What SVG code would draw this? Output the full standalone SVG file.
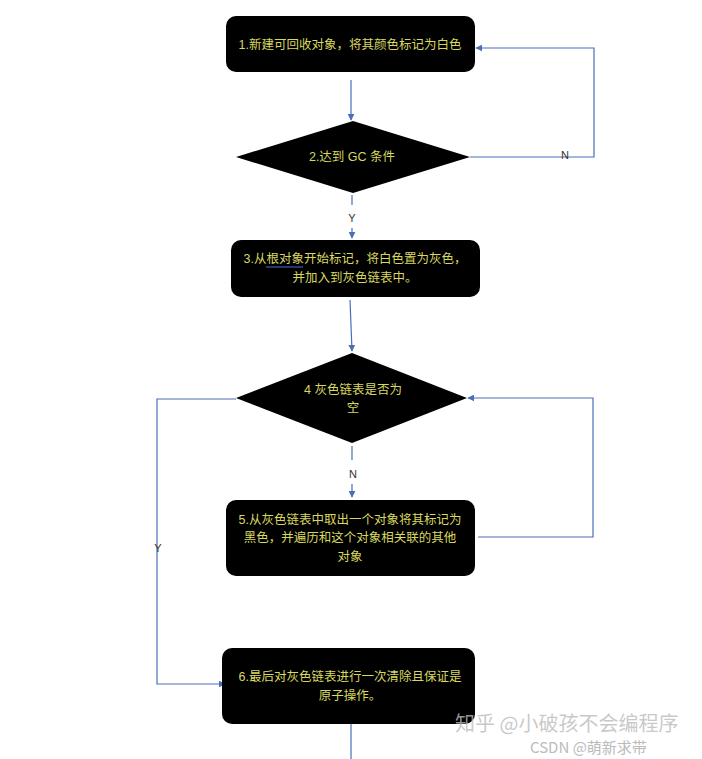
<svg xmlns="http://www.w3.org/2000/svg" width="702" height="759" viewBox="0 0 702 759">
<defs>
<style>
.box{fill:#000;}
.t{font-family:"Liberation Sans","Noto Sans CJK SC",sans-serif;font-size:12.5px;fill:#d8d860;text-anchor:middle;}
.c{fill:none;stroke:#4a6fb5;stroke-width:1.2;}
.lbl{font-family:"Liberation Sans","Noto Sans CJK SC",sans-serif;font-size:11px;fill:#333;text-anchor:middle;}
.wm{font-family:"Noto Sans CJK SC",sans-serif;fill:#bbb;}
</style>
<marker id="ah" viewBox="0 0 10 10" refX="9" refY="5" markerWidth="7" markerHeight="7" orient="auto" markerUnits="userSpaceOnUse">
<path d="M0,0 L10,5 L0,10 z" fill="#4a6fb5"/>
</marker>
</defs>
<rect width="702" height="759" fill="#fff"/>
<g id="connectors">
<line class="c" x1="351" y1="80" x2="351" y2="120" marker-end="url(#ah)"/>
<polyline class="c" points="470,157 594,157 594,48 476,48" marker-end="url(#ah)"/>
<text class="lbl" x="565" y="159">N</text>
<line class="c" x1="352" y1="195" x2="352" y2="205"/>
<text class="lbl" x="352" y="222">Y</text>
<line class="c" x1="352" y1="228" x2="352" y2="238" marker-end="url(#ah)"/>
<line class="c" x1="350" y1="300" x2="352" y2="351" marker-end="url(#ah)"/>
<line class="c" x1="352" y1="446" x2="352" y2="460"/>
<text class="lbl" x="353" y="478">N</text>
<line class="c" x1="352" y1="484" x2="352" y2="497" marker-end="url(#ah)"/>
<polyline class="c" points="478,537 593,537 593,398 468,398" marker-end="url(#ah)"/>
<polyline class="c" points="236,399 157,399 157,684 225,684" marker-end="url(#ah)"/>
<text class="lbl" x="158" y="552">Y</text>
<line class="c" x1="351" y1="723" x2="351" y2="759"/>
</g>
<g id="n1">
<rect class="box" x="226" y="16" width="249" height="56" rx="10"/>
<text class="t" x="350" y="49">1.新建可回收对象，将其颜色标记为白色</text>
</g>
<g id="n2">
<polygon class="box" points="236,157 353,121 470,157 353,193"/>
<text class="t" x="352" y="161">2.达到 GC 条件</text>
</g>
<g id="n3">
<rect class="box" x="231" y="240" width="249" height="57" rx="10"/>
<text class="t" x="355" y="263">3.从根对象开始标记，将白色置为灰色，</text>
<line x1="266" y1="267" x2="303" y2="267" stroke="#4a6fd0" stroke-width="1.2"/>
<text class="t" x="355" y="282">并加入到灰色链表中。</text>
</g>
<g id="n4">
<polygon class="box" points="236,398 352,353 467,398 352,443"/>
<text class="t" x="353" y="394">4 灰色链表是否为</text>
<text class="t" x="353" y="412">空</text>
</g>
<g id="n5">
<rect class="box" x="226" y="500" width="249" height="76" rx="10"/>
<text class="t" x="350" y="524">5.从灰色链表中取出一个对象将其标记为</text>
<text class="t" x="350" y="542">黑色，并遍历和这个对象相关联的其他</text>
<text class="t" x="350" y="561">对象</text>
</g>
<g id="n6">
<rect class="box" x="222" y="648" width="253" height="76" rx="10"/>
<text class="t" x="350" y="681">6.最后对灰色链表进行一次清除且保证是</text>
<text class="t" x="350" y="700">原子操作。</text>
</g>
<g id="watermark">
<text class="wm" x="455" y="731" font-size="20" fill-opacity="0.8">知乎 @小破孩不会编程序</text>
<text class="wm" x="530" y="753" font-size="15" fill="#999">CSDN @萌新求带</text>
</g>
</svg>
